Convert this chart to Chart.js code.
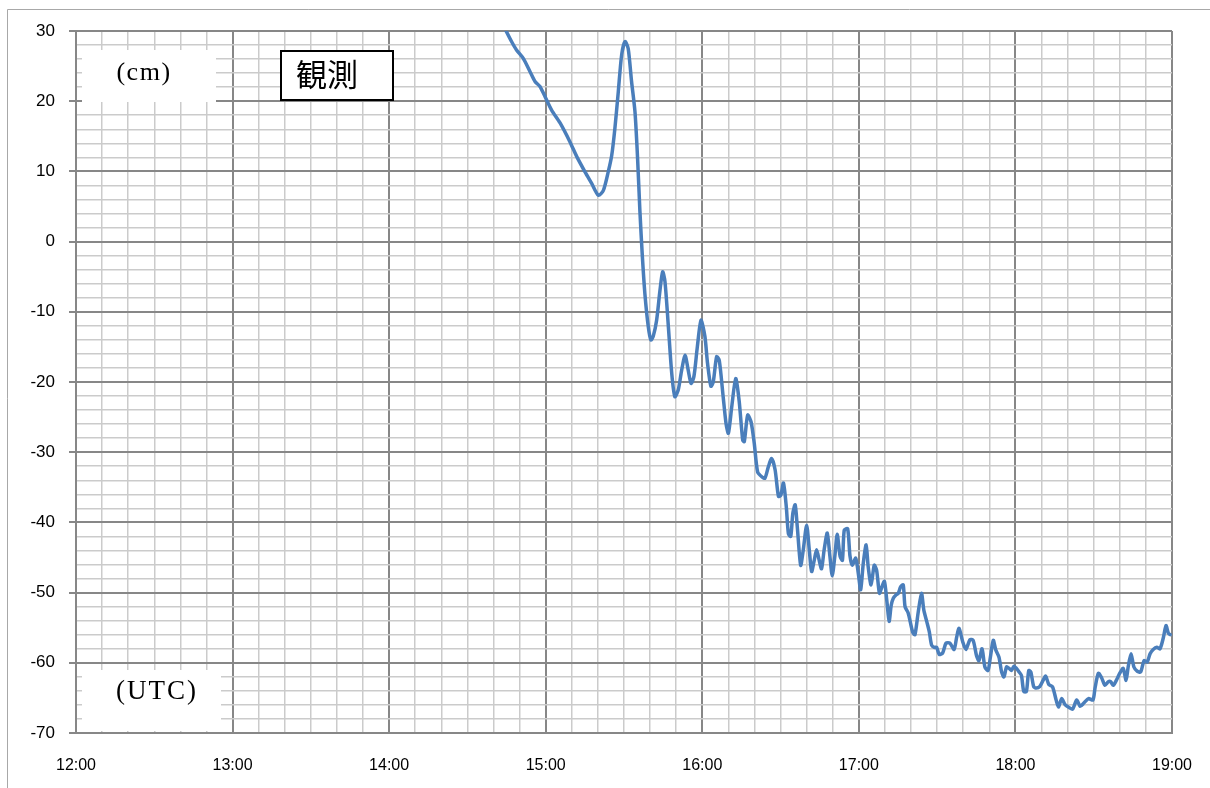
<!DOCTYPE html>
<html>
<head>
<meta charset="utf-8">
<script src="https://cdn.jsdelivr.net/npm/chart.js@4.4.1/dist/chart.umd.min.js"></script>
<style>
  html, body { margin: 0; padding: 0; background: #ffffff; }
  #wrap { position: relative; width: 1210px; height: 788px; }
</style>
</head>
<body>
<div id="wrap"><canvas id="tide" width="1210" height="788"></canvas></div>
<script>
// Observed sea level (cm), time as minutes after 12:00 UTC
const minutes = [
  164.0, 166.9, 168.8, 171.4, 174.0, 175.9, 177.8, 179.8, 182.3, 185.5,
  189.3, 191.9, 195.1, 197.6, 200.2, 202.1, 204.0, 205.3, 206.5, 207.8,
  209.1, 210.4, 211.6, 212.9, 214.2, 215.2, 216.1, 217.0, 218.0, 219.3,
  220.3, 221.2, 222.5, 223.8, 224.8, 225.7, 227.0, 228.3, 229.5, 230.8,
  232.1, 233.4, 234.6, 235.7, 236.8, 238.1, 239.5, 241.0, 242.0, 243.3,
  244.2, 245.5, 246.5, 248.0, 249.1, 250.0, 251.3, 252.8, 254.1, 255.5,
  256.1, 257.4, 258.7, 259.9, 261.2, 262.8, 264.0, 265.3, 266.6, 267.9,
  269.2, 270.1, 271.1, 272.2, 273.0, 273.9, 274.7, 275.6, 276.4, 277.7,
  278.7, 280.0, 281.0, 281.9, 282.9, 283.8, 284.8, 285.7, 286.7, 287.9,
  288.9, 289.8, 290.8, 291.7, 292.8, 293.7, 294.4, 295.7, 296.6, 297.5,
  298.8, 299.8, 300.7, 301.7, 302.8, 303.6, 304.7, 305.9, 306.8, 307.9,
  308.8, 309.8, 310.7, 311.6, 312.4, 313.2, 314.3, 315.1, 316.0, 317.0,
  317.7, 318.9, 320.6, 321.5, 322.7, 324.0, 324.9, 326.0, 327.0, 327.9,
  328.9, 329.8, 330.8, 332.1, 333.4, 334.9, 336.5, 337.5, 338.4, 339.8,
  341.0, 342.6, 343.8, 345.1, 346.0, 347.2, 348.3, 349.5, 350.4, 351.5,
  352.5, 353.7, 354.7, 355.6, 356.6, 357.6, 358.5, 359.4, 360.4, 361.4,
  362.3, 363.2, 364.2, 365.1, 365.9, 367.0, 368.0, 369.3, 370.6, 371.6,
  372.8, 374.2, 375.6, 376.5, 377.7, 379.1, 380.7, 381.9, 383.5, 384.8,
  386.3, 388.0, 389.7, 390.5, 391.8, 393.1, 394.3, 395.6, 396.5, 397.5,
  398.8, 400.1, 401.3, 402.4, 403.2, 404.3, 405.4, 406.7, 408.0, 409.3,
  410.5, 411.6, 412.8, 414.2, 415.4, 416.7, 417.7, 418.6, 419.3
];
const levels = [
   30.6,  28.5,  27.3,  26.1,  24.2,  22.8,  22.1,  20.6,  18.7,  16.9,
   14.2,  12.1,   9.9,   8.3,   6.6,   7.3,  10.0,  12.3,  16.1,  21.3,
   26.6,  28.5,  27.5,  22.8,  18.5,  11.9,   4.3,  -1.9,  -7.4, -12.1,
  -14.0, -13.5, -11.2,  -6.9,  -4.3,  -5.7, -12.1, -18.8, -22.1, -21.1,
  -18.3, -16.2, -18.3, -20.2, -19.2, -15.0, -11.2, -13.5, -17.3, -20.6,
  -20.0, -16.4, -16.9, -22.1, -25.9, -27.3, -23.5, -19.5, -22.6, -28.3,
  -28.5, -24.7, -25.7, -28.7, -32.8, -33.5, -33.7, -32.1, -30.9, -32.5,
  -36.3, -36.1, -34.4, -37.8, -41.6, -42.0, -38.7, -37.5, -40.6, -46.1,
  -43.9, -40.4, -43.9, -47.0, -45.4, -43.9, -45.4, -46.6, -43.9, -41.5,
  -44.8, -47.6, -44.8, -41.7, -44.8, -45.4, -41.1, -40.9, -44.8, -46.1,
  -45.1, -47.3, -49.6, -45.8, -43.2, -46.4, -48.9, -46.1, -46.8, -50.1,
  -49.2, -48.4, -51.1, -54.1, -51.8, -50.8, -50.3, -50.1, -49.2, -48.9,
  -52.0, -52.9, -55.6, -56.0, -52.9, -50.1, -52.5, -54.1, -55.6, -57.5,
  -57.8, -57.8, -58.8, -58.6, -57.2, -57.2, -58.1, -56.3, -55.1, -57.0,
  -58.1, -56.7, -56.8, -59.0, -59.7, -58.0, -60.6, -61.1, -59.2, -56.8,
  -58.2, -59.2, -61.3, -62.0, -60.6, -60.8, -61.1, -60.5, -60.8, -61.3,
  -61.8, -64.1, -64.1, -61.1, -61.3, -63.4, -63.6, -63.4, -62.5, -61.9,
  -63.1, -63.4, -65.3, -66.3, -65.1, -66.0, -66.4, -66.6, -65.3, -66.2,
  -65.7, -65.1, -65.3, -63.6, -61.5, -62.2, -63.2, -62.7, -62.7, -63.2,
  -62.4, -61.4, -60.8, -62.5, -60.6, -58.7, -60.6, -61.2, -61.3, -59.7,
  -59.9, -58.7, -58.1, -57.8, -58.0, -56.4, -54.7, -55.8, -56.0
];
const hourLabels = ['12:00', '13:00', '14:00', '15:00', '16:00', '17:00', '18:00', '19:00'];
const unitLabel = '(cm)';
const timeLabel = '(UTC)';
const seriesLabel = '観測';

const MAJOR = '#878787';
const MINOR = '#cbcbcb';

// Page frame, white panels for the unit captions and the boxed series name
const panels = {
  id: 'panels',
  beforeDraw(chart) {
    const ctx = chart.ctx;
    ctx.save();
    ctx.fillStyle = '#ffffff';
    ctx.fillRect(0, 0, chart.width, chart.height);
    ctx.strokeStyle = '#a8a8a8';
    ctx.lineWidth = 1;
    ctx.beginPath();
    ctx.moveTo(7.5, chart.height);
    ctx.lineTo(7.5, 9.5);
    ctx.lineTo(chart.width, 9.5);
    ctx.stroke();
    ctx.restore();
  },
  afterDatasetsDraw(chart) {
    const ctx = chart.ctx;
    const a = chart.chartArea;
    ctx.save();
    // unit caption
    ctx.fillStyle = '#ffffff';
    ctx.fillRect(a.left + 6, a.top + 19, 134, 52);
    ctx.fillStyle = '#000000';
    ctx.font = '26px "Liberation Serif", serif';
    ctx.letterSpacing = '1.5px';
    ctx.textAlign = 'center';
    ctx.textBaseline = 'middle';
    ctx.fillText(unitLabel, a.left + 68, a.top + 42);
    // time caption
    ctx.fillStyle = '#ffffff';
    ctx.fillRect(a.left + 6, a.bottom - 63, 139, 61);
    ctx.fillStyle = '#000000';
    ctx.font = '27px "Liberation Serif", serif';
    ctx.letterSpacing = '2px';
    ctx.fillText(timeLabel, a.left + 81, a.bottom - 41);
    // series name box
    ctx.letterSpacing = '0px';
    ctx.fillStyle = '#ffffff';
    ctx.fillRect(a.left + 204, a.top + 19, 114, 51);
    ctx.strokeStyle = '#000000';
    ctx.lineWidth = 2;
    ctx.strokeRect(a.left + 205, a.top + 20, 112, 49);
    ctx.fillStyle = '#000000';
    ctx.font = '31px "Noto Sans CJK JP", sans-serif';
    ctx.textAlign = 'left';
    ctx.fillText(seriesLabel, a.left + 220, a.top + 43);
    ctx.restore();
  }
};

new Chart(document.getElementById('tide'), {
  type: 'line',
  data: {
    datasets: [{
      label: seriesLabel,
      data: minutes.map((m, i) => ({ x: m, y: levels[i] })),
      borderColor: '#4a7ebb',
      borderWidth: 3.5,
      pointRadius: 0,
      tension: 0.25,
      borderJoinStyle: 'round',
      borderCapStyle: 'round',
      fill: false,
      clip: 0
    }]
  },
  options: {
    responsive: false,
    animation: false,
    devicePixelRatio: 1,
    layout: { padding: { left: 0, right: 38, top: 31, bottom: 0 } },
    plugins: { legend: { display: false }, tooltip: { enabled: false } },
    scales: {
      x: {
        type: 'linear',
        min: 0,
        max: 420,
        afterFit(scale) {
          scale.height = 55;
          scale.paddingLeft = 0;
          scale.paddingRight = 0;
        },
        ticks: {
          stepSize: 10,
          autoSkip: false,
          maxRotation: 0,
          padding: 23,
          color: '#000000',
          font: { family: '"Liberation Sans", sans-serif', size: 16 },
          callback: v => (v % 60 === 0 ? hourLabels[v / 60] : '')
        },
        grid: {
          drawTicks: false,
          color: c => (c.tick && c.tick.value % 60 === 0 ? MAJOR : MINOR),
          lineWidth: c => (c.tick && c.tick.value % 60 === 0 ? 2 : 1.5)
        },
        border: { color: MAJOR, width: 2 }
      },
      y: {
        min: -70,
        max: 30,
        afterFit(scale) {
          scale.width = 76;
          scale.paddingTop = 0;
          scale.paddingBottom = 0;
        },
        ticks: {
          stepSize: 2,
          autoSkip: false,
          padding: 14,
          color: '#000000',
          font: { family: '"Liberation Sans", sans-serif', size: 17 },
          callback: v => (v % 10 === 0 ? String(v) : '')
        },
        grid: {
          tickLength: 7,
          color: c => (c.tick && c.tick.value % 10 === 0 ? MAJOR : MINOR),
          tickColor: c => (c.tick && c.tick.value % 10 === 0 ? MAJOR : 'rgba(0,0,0,0)'),
          lineWidth: c => (c.tick && c.tick.value % 10 === 0 ? 2 : 1.5)
        },
        border: { color: MAJOR, width: 2 }
      }
    }
  },
  plugins: [panels]
});
</script>
</body>
</html>
